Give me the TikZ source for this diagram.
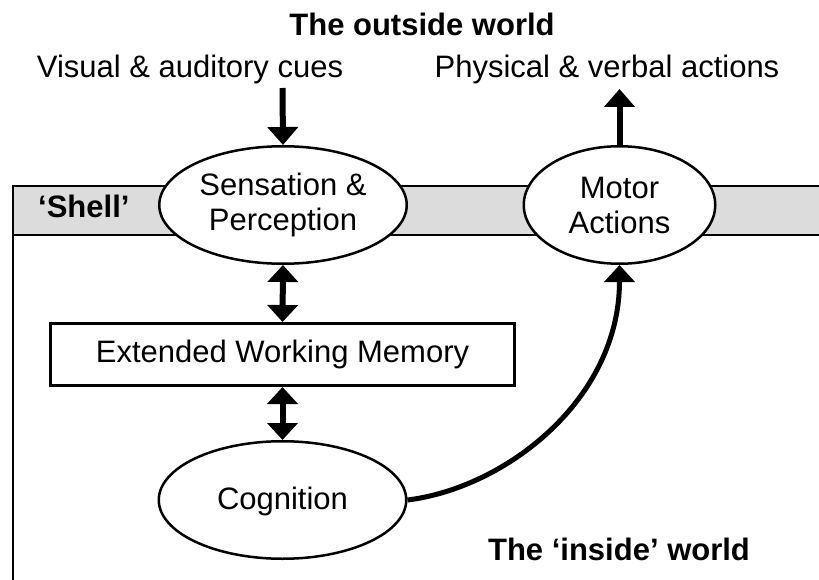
\documentclass[tikz,border=0pt]{standalone}
\usepackage{fontspec}
\setmainfont{Liberation Sans}
\usetikzlibrary{arrows.meta,shapes.geometric}
\definecolor{bandgray}{RGB}{220,220,220}
\begin{document}
\begin{tikzpicture}[x=1pt,y=-1pt,
  txt/.style={font=\fontsize{31}{35}\selectfont, inner sep=0pt},
  btxt/.style={font=\fontsize{31}{35}\selectfont\bfseries, inner sep=0pt},
  oval/.style={ellipse, draw, line width=2.5pt, fill=white, inner sep=0pt, align=center, font=\fontsize{31}{35}\selectfont},
  box/.style={rectangle, draw, line width=2.7pt, fill=white, inner sep=0pt, font=\fontsize{31}{35}\selectfont},
  bigarrow/.style={line width=6pt, -{Triangle[width=30pt,length=18pt]}},
  dblarrow/.style={line width=6pt, {Triangle[width=30pt,length=17pt]}-{Triangle[width=30pt,length=17pt]}},
  curvearrow/.style={line width=5pt, -{Triangle[width=30pt,length=17pt]}},
  frame/.style={line width=2.5pt}]
\useasboundingbox (0,0) rectangle (819,580);
% shell band and frame
\fill[bandgray] (13,186) rectangle (819,235);
\draw[frame] (819,186) -- (13,186) -- (13,580);
\draw[frame] (13,235) -- (819,235);
% texts
\node[btxt, anchor=base] (title) at (422,36) {The outside world};
\node[txt, anchor=base] (cues) at (190,78) {Visual \& auditory cues};
\node[txt, anchor=base] (acts) at (607,78) {Physical \& verbal actions};
\node[btxt, anchor=base west] (shell) at (38,218) {‘Shell’};
\node[btxt, anchor=base] (inside) at (619,560) {The ‘inside’ world};
% nodes
\node[oval, minimum width=247.5pt, minimum height=117.5pt] (sens) at (283,205) {Sensation \&\\Perception};
\node[oval, minimum width=191.5pt, minimum height=117.5pt] (motor) at (619.5,205) {Motor\\Actions};
\node[box, minimum width=464.3pt, minimum height=62.3pt] (ewm) at (282.5,354.5) {Extended Working Memory};
\node[oval, minimum width=247.5pt, minimum height=117.5pt, text depth=3pt] (cog) at (282.5,500) {Cognition};
% connectors
\coordinate (cuein) at (282.5,88);
\coordinate (actout) at (619.5,89);
\draw[bigarrow] (cuein) -- (sens.north);
\draw[bigarrow] (motor.north) -- (actout);
\draw[dblarrow] (sens.south) -- (ewm.north);
\draw[dblarrow] (ewm.south) -- (cog.north);
\draw[curvearrow] (cog.east) .. controls (505,488) and (619.5,400) .. (motor.south);
\end{tikzpicture}
\end{document}
